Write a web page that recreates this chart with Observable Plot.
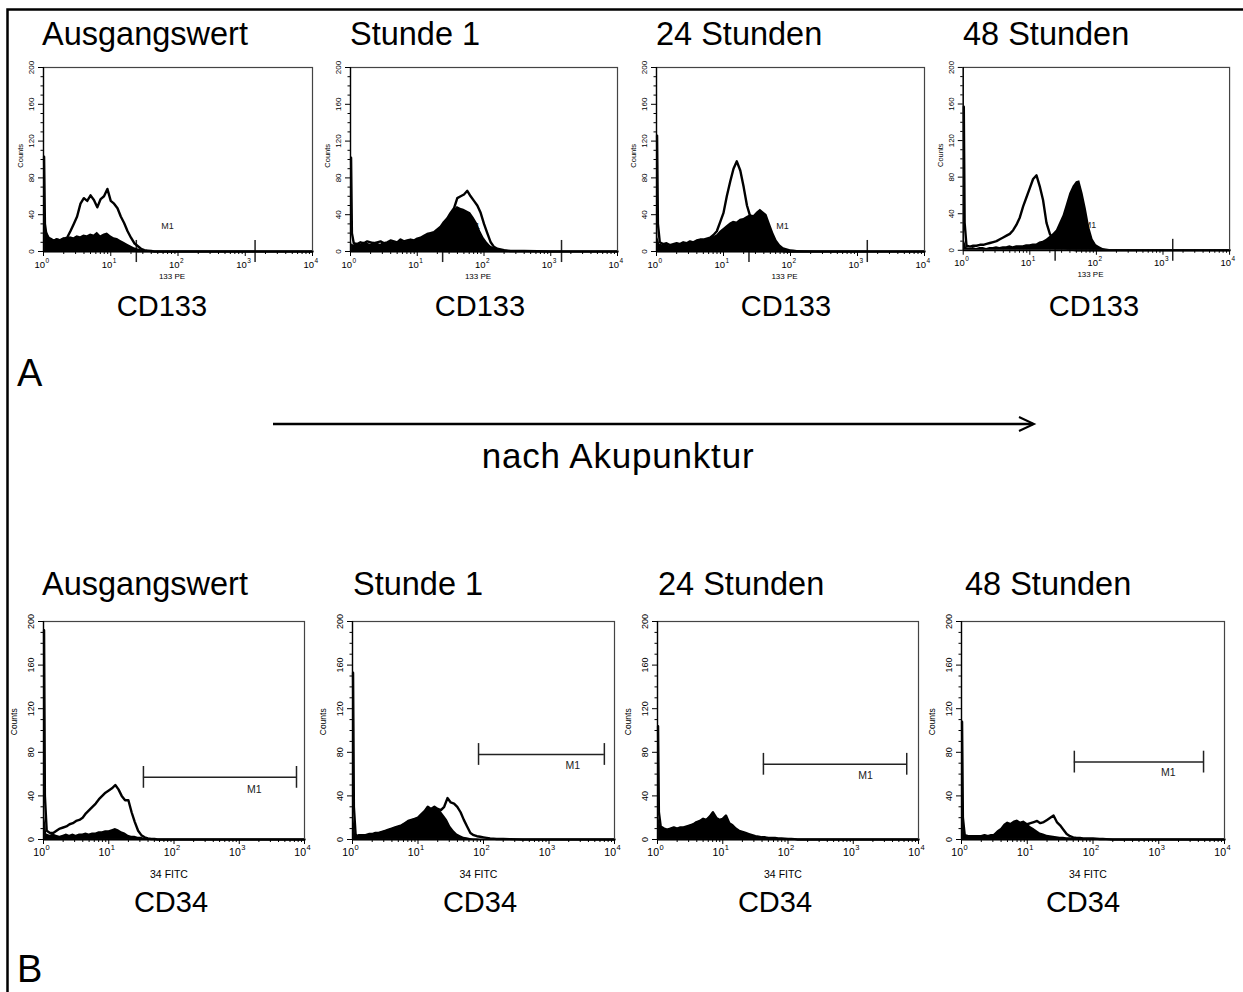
<!DOCTYPE html>
<html lang="de">
<head>
<meta charset="utf-8">
<script src="https://cdn.jsdelivr.net/npm/d3@7"></script>
<script src="https://cdn.jsdelivr.net/npm/@observablehq/plot@0.6"></script>
<style>
html,body{margin:0;padding:0;background:#fff;}
#fig{position:relative;width:1243px;height:992px;overflow:hidden;background:#fff;}
#fig .panel{position:absolute;}
#fig svg.overlay{position:absolute;left:0;top:0;}
</style>
</head>
<body>
<div id="fig"></div>
<script>
// ---------- DATA ----------
const timepoints = ["Ausgangswert", "Stunde 1", "24 Stunden", "48 Stunden"];
const markerA = "CD133";
const markerB = "CD34";
const paramA = "133 PE";
const paramB = "34 FITC";
const panelLetters = ["A", "B"];
const arrowLabel = "nach Akupunktur";

const decades = [1, 10, 100, 1000, 10000];
const decadeExp = ["0", "1", "2", "3", "4"];
const minorTicks = [2,3,4,5,6,7,8,9,20,30,40,50,60,70,80,90,200,300,400,500,600,700,800,900,2000,3000,4000,5000,6000,7000,8000,9000];
const countTicks = [0, 40, 80, 120, 160, 200];
const countMinor = [10,20,30,50,60,70,90,100,110,130,140,150,170,180,190];

// fluorescence channels (intensity)
const channels = [1.02, 1.05, 1.12, 1.26, 1.41, 1.58, 1.78, 2.0, 2.24, 2.51,
  2.82, 3.16, 3.55, 3.98, 4.47, 5.01, 5.62, 6.31, 7.08, 7.94,
  8.91, 10, 11.2, 12.6, 14.1, 15.8, 17.8, 20, 22.4, 25.1,
  28.2, 31.6, 35.5, 39.8, 44.7, 50.1, 56.2, 63.1, 70.8, 79.4,
  89.1, 100, 112, 126, 141, 158, 200, 251, 398, 1000, 10000];

// CD133 (row A) counts: open = outlined histogram, fill = filled histogram
const cd133_base_open = [103,30,15,14,12,13,12,14,15,22, 30,38,52,58,55,61,56,48,57,60, 68,55,52,47,38,31,22,15,9,6, 3,1.5,1,0.5,0,0,0,0,0,0, 0,0,0,0,0,0,0,0,0,0,0];
const cd133_base_fill = [40,30,22,15,12,14,13,15,14,16, 15,17,16,18,17,19,18,21,17,19, 20,17,15,14,12,10,8,6,4,3, 2,1,0.5,0,0,0,0,0,0,0, 0,0,0,0,0,0,0,0,0,0,0];
const cd133_h1_open = [102,20,9,8,10,9,11,10,9,10, 11,9,10,12,11,10,13,11,12,13, 12,14,15,17,19,20,21,24,27,32, 36,42,47,58,60,62,66,60,55,50, 42,30,20,10,5,3,1.5,0.5,0.5,0,0];
const cd133_h1_fill = [12,8,7,9,8,10,9,8,10,9, 8,10,9,11,10,9,12,10,11,12, 11,13,14,16,18,19,20,23,26,31, 35,40,45,49,47,46,44,42,37,31, 22,15,10,6,4,3,1.5,0.5,0.3,0,0];
const cd133_h24_open = [126,30,10,8,9,7,8,9,8,10, 9,11,10,12,13,13,14,15,18,22, 32,42,60,76,90,98,88,70,50,38, 25,15,10,6,4,3,2,1.5,1,0.5, 0,0,0,0,0,0,0,0,0,0,0];
const cd133_h24_fill = [65,15,8,7,8,6,7,8,7,9, 8,10,9,11,12,12,13,14,16,18, 22,25,28,31,33,32,35,36,38,40, 39,43,46,43,40,30,20,12,7,4, 3,2,1.5,1,0.8,0.5,0.3,0,0,0,0];
const cd133_h48_open = [157,30,5,4,5,5,6,6,7,8, 9,10,12,14,16,18,22,28,36,48, 58,68,78,82,70,55,30,18,12,8, 5,3,2,1,0.5,0,0,0,0,0, 0,0,0,0,0,0,0,0,0,0,0];
const cd133_h48_fill = [80,10,3,2,3,2,3,3,2,3, 3,4,3,4,4,5,4,5,5,5, 6,6,7,7,9,10,12,15,18,22, 30,38,50,62,70,75,76,62,45,25, 12,6,4,2,1.5,1,0.5,0.3,0,0,0];

// CD34 (row B)
const cd34_base_open = [192,40,8,6,6,8,10,11,12,14, 15,17,18,20,24,27,30,33,37,40, 43,45,47,50,46,40,36,36,25,16, 8,4,2,1,0.5,0.5,0,0,0,0, 0,0,0,0,0,0,0,0,0,0,0];
const cd34_base_fill = [97,20,5,4,5,4,3,4,5,4, 5,4,5,5,6,5,6,6,7,7, 8,8,9,10,9,7,6,4,3,3, 2,2,1,1,0.5,0.3,0,0,0,0, 0,0,0,0,0,0,0,0,0,0,0];
const cd34_h1_open = [153,30,3,4,4,4,5,5,6,6, 7,8,9,10,11,12,13,15,17,18, 19,20,23,26,30,28,30,28,27,30, 38,34,33,30,25,18,12,6,4,3, 2.5,2,1.5,1,0.8,0.5,0.5,0.3,0,0,0];
const cd34_h1_fill = [104,20,3,4,4,4,5,5,6,6, 7,8,9,10,11,12,13,15,17,18, 19,20,23,26,30,28,30,28,26,22, 18,12,8,5,3.5,2,1.5,1,0.5,0.5, 0,0,0,0,0,0,0,0,0,0,0];
const cd34_h24_open = [104,25,12,10,9,10,11,10,11,11, 12,13,14,16,17,19,18,21,25,20, 18,19,22,15,13,10,8,7,6,5, 4,3,2.5,2,2,1.5,1.5,1.5,1,1, 0.8,0.5,0.5,0.3,0,0,0,0,0,0,0];
const cd34_h24_fill = [27,20,12,10,9,10,11,10,11,11, 12,13,14,16,17,19,18,21,25,20, 18,19,22,15,13,10,8,7,6,5, 4,3,2.5,2,2,1.5,1.5,1.5,1,1, 0.8,0.5,0.5,0.3,0,0,0,0,0,0,0];
const cd34_h48_open = [108,20,4,3,3,3,3,3,4,3, 4,4,5,6,7,9,10,11,12,13, 14,14,15,16,17,15,16,18,20,22, 16,13,9,5,3,2,1.5,1.5,1,1, 1,1,0.8,0.5,0.5,0.3,0,0,0,0,0];
const cd34_h48_fill = [66,20,4,3,3,3,3,3,3,3, 3,5,8,10,14,16,15,17,18,16, 17,15,12,10,8,6,5,4,3.5,3, 2.5,2,2,1.5,1.5,1,1,1,0.8,0.5, 0.5,0.5,0.3,0,0,0,0,0,0,0,0];

// M1 gates: start, end, level (counts), label x, label y
const cd133GateStart = [24, 24, 24, 24];
const cd133GateEnd = [1400, 1450, 1400, 1400];
const cd133GateLevel = [0, 0, 0, 0];
const cd133LabelX = [70, 70, 76, 80];
const cd133LabelY = [28, 28, 28, 28];
const cd34GateStart = [34, 84, 42, 52];
const cd34GateEnd = [7540, 7000, 6600, 4800];
const cd34GateLevel = [57, 78, 69, 71];
const cd34LabelX = [1700, 2300, 1550, 1400];
const cd34LabelY = [46, 68, 59, 61];

// ---------- LAYOUT ----------
const FONT = "'Liberation Sans', Arial, Helvetica, sans-serif";
const layoutA = {lefts: [43, 350, 656, 963], rights: [312, 617, 924, 1231], top: 67, bottom: 251};
const layoutB = {lefts: [43, 352, 657, 961], rights: [304, 614, 918, 1224], top: 621, bottom: 839};
const styleA = {m1: 9, tick: 12, tenFs: 9.5, supFs: 6.5, tenDy: 16, supDy: 11, paramDy: 27, paramFs: 8, paramDx: -6,
  yFs: 8, yDx: -12, cFs: 7.5, cDx: -23, countsY: 104, mB: 36};
const styleB = {m1: 10.5, tick: 10, tenFs: 10.5, supFs: 7.5, tenDy: 16, supDy: 10.5, paramDy: 38, paramFs: 10.5, paramDx: -5,
  yFs: 9, yDx: -12, cFs: 8.5, cDx: -29, countsY: 108, mB: 44};

const fig = document.getElementById("fig");

function makePanel(left, top, w, h, open, fill, gate, param, s) {
  const mL = 44, mR = 14, mT = 10, mB = s.mB;
  const openRows = channels.map((x, i) => ({x, y: open[i]}));
  const fillRows = channels.map((x, i) => ({x, y: fill[i]}));
  const ends = [{x: gate.x1}, {x: gate.x2}];
  const plot = Plot.plot({
    width: w + mL + mR, height: h + mT + mB,
    marginLeft: mL, marginRight: mR, marginTop: mT, marginBottom: mB,
    x: {type: "log", domain: [1, 10000], axis: null},
    y: {domain: [0, 200], axis: null},
    style: {fontFamily: FONT, background: "none", overflow: "visible", color: "#000"},
    marks: [
      Plot.text([gate], {x: "lx", y: "ly", text: () => "M1", fontSize: s.m1, fill: "#222", textAnchor: "middle", lineAnchor: "middle"}),
      Plot.ruleY([gate], {y: "y", x1: "x1", x2: "x2", stroke: "#222", strokeWidth: 1.5}),
      Plot.ruleX(ends, {x: "x", y1: () => gate.y - s.tick, y2: () => gate.y + s.tick, stroke: "#222", strokeWidth: 1.5}),
      Plot.areaY(fillRows, {x: "x", y: "y", fill: "#000"}),
      Plot.lineY(openRows, {x: "x", y: "y", stroke: "#000", strokeWidth: 2.4, strokeLinejoin: "round"}),
      Plot.frame({stroke: "#444", strokeWidth: 1.2}),
      Plot.ruleY([0], {stroke: "#000", strokeWidth: 1.8}),
      Plot.ruleX([1], {stroke: "#000", strokeWidth: 1.3}),
      Plot.axisX({ticks: minorTicks, tickSize: 3, tickFormat: () => "", label: null, anchor: "bottom"}),
      Plot.axisX({ticks: decades, tickSize: 5, tickFormat: () => "", label: null, anchor: "bottom"}),
      Plot.axisY({ticks: countMinor, tickSize: 2.5, tickFormat: () => "", label: null, anchor: "left"}),
      Plot.axisY({ticks: countTicks, tickSize: 5, tickFormat: () => "", label: null, anchor: "left"}),
      Plot.text(decades, {x: d => d, frameAnchor: "bottom", lineAnchor: "bottom", dy: s.tenDy, dx: 1.5,
        text: () => "10", textAnchor: "end", fontSize: s.tenFs}),
      Plot.text(decades, {x: d => d, frameAnchor: "bottom", lineAnchor: "bottom", dy: s.supDy, dx: 2,
        text: (d, i) => decadeExp[i], textAnchor: "start", fontSize: s.supFs}),
      Plot.text([param], {x: () => 100, frameAnchor: "bottom", lineAnchor: "bottom", dy: s.paramDy, dx: s.paramDx,
        text: d => d, textAnchor: "middle", fontSize: s.paramFs}),
      Plot.text(countTicks, {y: d => d, frameAnchor: "left", dx: s.yDx, rotate: -90, text: d => String(d),
        fontSize: s.yFs, textAnchor: "middle", lineAnchor: "middle"}),
      Plot.text(["Counts"], {y: () => s.countsY, frameAnchor: "left", dx: s.cDx, rotate: -90, text: d => d,
        fontSize: s.cFs, textAnchor: "middle", lineAnchor: "middle"})
    ]
  });
  const div = document.createElement("div");
  div.className = "panel";
  div.style.left = (left - mL) + "px";
  div.style.top = (top - mT) + "px";
  div.appendChild(plot);
  fig.appendChild(div);
}

const rowA = [[cd133_base_open, cd133_base_fill], [cd133_h1_open, cd133_h1_fill], [cd133_h24_open, cd133_h24_fill], [cd133_h48_open, cd133_h48_fill]];
const rowB = [[cd34_base_open, cd34_base_fill], [cd34_h1_open, cd34_h1_fill], [cd34_h24_open, cd34_h24_fill], [cd34_h48_open, cd34_h48_fill]];

rowA.forEach(([o, f], i) => {
  const L = layoutA;
  makePanel(L.lefts[i], L.top, L.rights[i] - L.lefts[i], L.bottom - L.top, o, f,
    {x1: cd133GateStart[i], x2: cd133GateEnd[i], y: cd133GateLevel[i], lx: cd133LabelX[i], ly: cd133LabelY[i]}, paramA, styleA);
});
rowB.forEach(([o, f], i) => {
  const L = layoutB;
  makePanel(L.lefts[i], L.top, L.rights[i] - L.lefts[i], L.bottom - L.top, o, f,
    {x1: cd34GateStart[i], x2: cd34GateEnd[i], y: cd34GateLevel[i], lx: cd34LabelX[i], ly: cd34LabelY[i]}, paramB, styleB);
});

// ---------- OVERLAY TEXT / ANNOTATIONS ----------
const titleXA = [42, 350, 656, 963];
const titleXB = [42, 353, 658, 965];
const markerCxA = [162, 480, 786, 1094];
const markerCxB = [171, 480, 775, 1083];
const ns = "http://www.w3.org/2000/svg";
const ov = document.createElementNS(ns, "svg");
ov.setAttribute("class", "overlay");
ov.setAttribute("width", 1243);
ov.setAttribute("height", 992);
ov.setAttribute("font-family", FONT);
function txt(x, y, s, size, anchor, extra) {
  const t = document.createElementNS(ns, "text");
  t.setAttribute("x", x); t.setAttribute("y", y);
  t.setAttribute("font-size", size);
  t.setAttribute("text-anchor", anchor || "start");
  t.setAttribute("fill", "#000");
  if (extra) for (const k in extra) t.setAttribute(k, extra[k]);
  t.textContent = s;
  ov.appendChild(t);
}
function path(d, sw) {
  const p = document.createElementNS(ns, "path");
  p.setAttribute("d", d); p.setAttribute("fill", "none");
  p.setAttribute("stroke", "#000"); p.setAttribute("stroke-width", sw);
  ov.appendChild(p);
}
timepoints.forEach((t, i) => txt(titleXA[i], 45, t, 32.5));
timepoints.forEach((t, i) => txt(titleXB[i], 595, t, 32.5));
markerCxA.forEach(cx => txt(cx, 316, markerA, 29, "middle"));
markerCxB.forEach(cx => txt(cx, 912, markerB, 29, "middle"));
txt(17, 386, panelLetters[0], 38);
txt(17, 982, panelLetters[1], 38);
path("M273 424 H1033", 2.5);
path("M1019 417 L1034 424 L1019 431", 2);
txt(618, 468, arrowLabel, 35, "middle", {"letter-spacing": "0.8"});
path("M7.5 992 V9.5 H1243", 2.5);
fig.appendChild(ov);
</script>
</body>
</html>
